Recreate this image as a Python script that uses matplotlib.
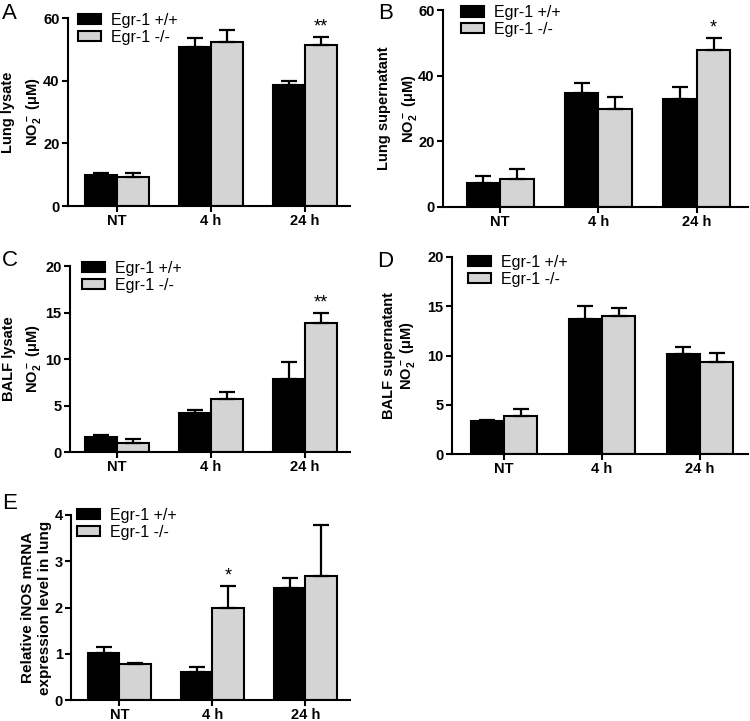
import numpy as np
import matplotlib
matplotlib.use("Agg")
import matplotlib.pyplot as plt
from matplotlib.patches import Patch

plt.rcParams['font.family'] = ['Liberation Sans', 'DejaVu Sans']
plt.rcParams['mathtext.fontset'] = 'custom'
plt.rcParams['mathtext.rm'] = 'Liberation Sans:bold'
plt.rcParams['mathtext.bf'] = 'Liberation Sans:bold'
plt.rcParams['mathtext.default'] = 'bf'

groups = ['NT', '4 h', '24 h']
series_labels = ['Egr-1 +/+', 'Egr-1 -/-']

# A - lung lysate NO2-
lung_lysate_wt = [9.9, 50.9, 38.7]
lung_lysate_wt_err = [0.5, 2.7, 1.1]
lung_lysate_ko = [9.1, 52.5, 51.5]
lung_lysate_ko_err = [1.4, 3.8, 2.4]

# B - lung supernatant NO2-
lung_sup_wt = [7.3, 34.7, 32.8]
lung_sup_wt_err = [2.2, 3.0, 3.9]
lung_sup_ko = [8.5, 29.9, 47.8]
lung_sup_ko_err = [3.0, 3.7, 3.6]

# C - BALF lysate NO2-
balf_lysate_wt = [1.6, 4.2, 7.9]
balf_lysate_wt_err = [0.25, 0.35, 1.8]
balf_lysate_ko = [0.97, 5.7, 13.85]
balf_lysate_ko_err = [0.43, 0.8, 1.15]

# D - BALF supernatant NO2-
balf_sup_wt = [3.3, 13.7, 10.2]
balf_sup_wt_err = [0.15, 1.3, 0.65]
balf_sup_ko = [3.9, 14.0, 9.3]
balf_sup_ko_err = [0.7, 0.8, 1.0]

# E - relative iNOS mRNA
inos_wt = [1.01, 0.6, 2.43]
inos_wt_err = [0.14, 0.11, 0.2]
inos_ko = [0.77, 2.0, 2.69]
inos_ko_err = [0.04, 0.47, 1.09]

# significance marks over the knockout bars (group index, text)
lung_lysate_stars = [(2, '**')]
lung_sup_stars = [(2, '*')]
balf_lysate_stars = [(2, '**')]
balf_sup_stars = []
inos_stars = [(1, '*')]

W, H = 750, 721
BAR_W = 0.34
GREY = '#d4d4d4'


def px_rect(left, right, top, bottom):
    return [left / W, 1 - bottom / H, (right - left) / W, (bottom - top) / H]


def draw_panel(fig, rect, letter, letter_xy, wt, wt_err, ko, ko_err, stars,
               ylim, yticks, xlim, ylabel, label_x, label_size, label_spacing, legend_xy):
    ax = fig.add_axes(rect)
    x = np.arange(len(groups))
    ax.bar(x - BAR_W / 2, wt, BAR_W, color='black', edgecolor='black', linewidth=1.5, zorder=2)
    ax.bar(x + BAR_W / 2, ko, BAR_W, color=GREY, edgecolor='black', linewidth=1.5, zorder=2)
    ax.errorbar(x - BAR_W / 2, wt, yerr=[np.zeros(len(wt)), wt_err], fmt='none',
                ecolor='black', elinewidth=1.6, capsize=6, capthick=1.6, zorder=3)
    ax.errorbar(x + BAR_W / 2, ko, yerr=[np.zeros(len(ko)), ko_err], fmt='none',
                ecolor='black', elinewidth=1.6, capsize=6, capthick=1.6, zorder=3)

    for i, s in stars:
        ax.annotate(s, xy=(x[i] + BAR_W / 2, ko[i] + ko_err[i]), xytext=(0, 1),
                    textcoords='offset points', ha='center', va='bottom', fontsize=13)

    ax.set_xlim(*xlim)
    ax.set_ylim(*ylim)
    ax.set_yticks(yticks)
    ax.set_xticks(x)
    ax.set_xticklabels(groups, fontweight='bold')
    for lab in ax.get_yticklabels():
        lab.set_fontweight('bold')
    ax.tick_params(direction='out', length=4, width=1.5, labelsize=10.5, pad=2)

    for side in ['top', 'right']:
        ax.spines[side].set_visible(False)
    for side in ['left', 'bottom']:
        ax.spines[side].set_linewidth(1.5)

    ax.set_ylabel(ylabel, fontsize=label_size, fontweight='bold', linespacing=label_spacing)
    ax.yaxis.set_label_coords(label_x, 0.5)

    handles = [Patch(facecolor='black', edgecolor='black', linewidth=1.5),
               Patch(facecolor=GREY, edgecolor='black', linewidth=1.5)]
    ax.legend(handles, series_labels, loc='upper left', bbox_to_anchor=legend_xy,
              frameon=False, fontsize=11.5, handlelength=1.45, handleheight=0.6,
              handletextpad=0.6, labelspacing=0.12, borderaxespad=0, borderpad=0)

    fig.text(letter_xy[0] / W, 1 - letter_xy[1] / H, letter, fontsize=16,
             ha='left', va='top')
    return ax


fig = plt.figure(figsize=(7.5, 7.21), dpi=100)

no2 = 'NO$_2^-$ (μM)'

draw_panel(fig, px_rect(68, 350, 18, 206), 'A', (2, 3),
           lung_lysate_wt, lung_lysate_wt_err, lung_lysate_ko, lung_lysate_ko_err,
           lung_lysate_stars, (0, 60), [0, 20, 40, 60], (-0.52, 2.48),
           'Lung lysate\n' + no2, -0.089, 10.5, 1.7, (0.035, 1.027))

draw_panel(fig, px_rect(443, 748, 10, 207), 'B', (378, 3),
           lung_sup_wt, lung_sup_wt_err, lung_sup_ko, lung_sup_ko_err,
           lung_sup_stars, (0, 60), [0, 20, 40, 60], (-0.58, 2.52),
           'Lung supernatant\n' + no2, -0.079, 10.5, 1.65, (0.059, 1.025))

draw_panel(fig, px_rect(70, 350, 266, 452), 'C', (2, 250),
           balf_lysate_wt, balf_lysate_wt_err, balf_lysate_ko, balf_lysate_ko_err,
           balf_lysate_stars, (0, 20), [0, 5, 10, 15, 20], (-0.5, 2.48),
           'BALF lysate\n' + no2, -0.096, 10.5, 1.65, (0.043, 1.027))

draw_panel(fig, px_rect(452, 748, 257, 454), 'D', (377, 251),
           balf_sup_wt, balf_sup_wt_err, balf_sup_ko, balf_sup_ko_err,
           balf_sup_stars, (0, 20), [0, 5, 10, 15, 20], (-0.53, 2.49),
           'BALF supernatant\n' + no2, -0.118, 10.5, 1.15, (0.054, 1.01))

draw_panel(fig, px_rect(71, 350, 515, 700), 'E', (2, 493),
           inos_wt, inos_wt_err, inos_ko, inos_ko_err,
           inos_stars, (0, 4), [0, 1, 2, 3, 4], (-0.52, 2.48),
           'Relative iNOS mRNA\nexpression level in lung', -0.068, 11, 1.3, (0.022, 1.038))

fig.savefig('out.png', dpi=100)
